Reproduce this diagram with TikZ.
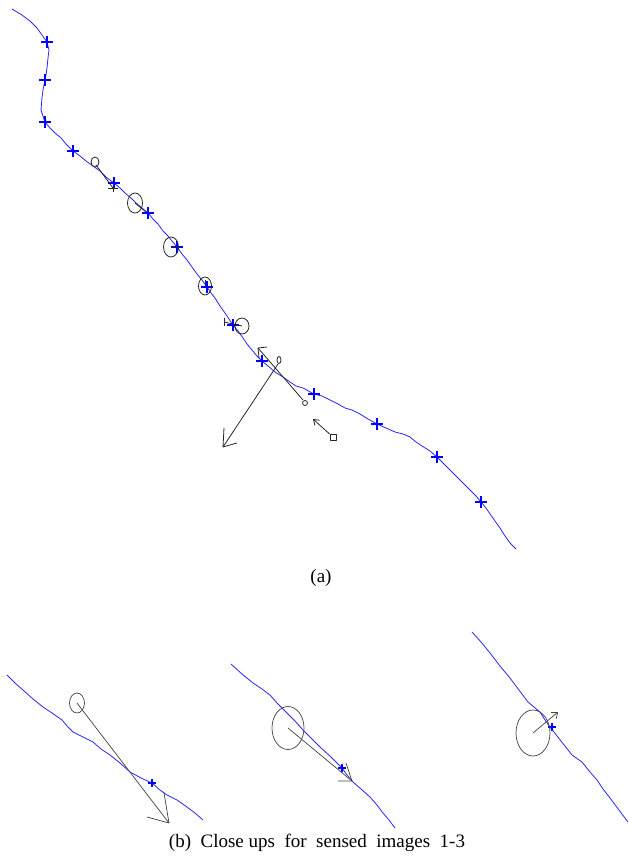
\documentclass[tikz,border=0pt]{standalone}
\usepackage{fontspec}
\setmainfont{Liberation Serif}
\usetikzlibrary{arrows.meta,shapes.geometric}
\begin{document}
\begin{tikzpicture}[x=1pt,y=-1pt,
  curve/.style={blue!85!white, line width=0.8pt, line join=round},
  ink/.style={black!85, line width=0.8pt, line join=round},
  thin ink/.style={black!75, line width=0.7pt},
  barb/.style={-{Straight Barb[length=5pt,width=7pt]}},
  captxt/.style={font=\fontsize{19}{22}\selectfont, inner sep=0pt},
  cr/.pic={\draw[blue, line width=1.1pt] (-6,0) -- (6,0) (0,-6) -- (0,6);}
]
\useasboundingbox (0,0) rectangle (629,857);

% ---------- (a) main trajectory ----------
\draw[curve] (12,9) -- (22,15) -- (30,21) -- (37,28) -- (42,35) -- (47,42) -- (49,50) -- (48,58) -- (47,68) -- (46,75) -- (45,80) -- (43,90) -- (42,98) -- (41,110) -- (45,122) -- (50,128) -- (55,133) -- (61,138) -- (66,144) -- (73,151) -- (80,156) -- (86,161) -- (93,166) -- (100,171) -- (106,177) -- (114,183) -- (120,188) -- (125,193) -- (131,198) -- (136,203) -- (142,208) -- (148,213) -- (153,219) -- (158,224) -- (163,231) -- (168,236) -- (172,241) -- (177,247) -- (182,254) -- (187,260) -- (192,267) -- (197,274) -- (202,280) -- (207,287) -- (211,293) -- (215,298) -- (220,306) -- (225,313) -- (229,319) -- (233,325) -- (238,331) -- (243,338) -- (247,344) -- (252,350) -- (257,356) -- (262,361) -- (268,366) -- (275,372) -- (283,377) -- (290,382) -- (296,386) -- (303,388) -- (314,394) -- (322,396) -- (330,400) -- (338,404) -- (345,408) -- (352,410) -- (360,414) -- (368,419) -- (377,424) -- (386,428) -- (395,432) -- (403,434) -- (410,437) -- (416,442) -- (422,446) -- (430,451) -- (437,457) -- (446,466) -- (455,475) -- (462,482) -- (470,490) -- (476,496) -- (481,502) -- (486,508) -- (490,514) -- (495,521) -- (500,528) -- (505,536) -- (510,543) -- (516,549);

\foreach \p in {(47,42),(45,80),(45,122),(73,151),(114,183),(148,213),(177,247),(207,287),(233,325),(262,361),(314,394),(377,424),(437,457),(481,502)}
  \pic at \p {cr};

% sensed images along the path
\draw[ink] (95,162) ellipse [x radius=4, y radius=5];
\coordinate (s1) at (96,165);
\coordinate (t1) at (113,188);
\draw[ink] (s1) -- (t1);
\draw[ink] (108,188) -- (118,188) (113,186) -- (113,192);

\node[ink, draw, ellipse, minimum width=15pt, minimum height=20pt, inner sep=0pt] (e2) at (135,203) {};
\draw[ink] (e2.center) -- (146,212);

\node[ink, draw, ellipse, minimum width=15pt, minimum height=20pt, inner sep=0pt] (e3) at (171,247) {};
\draw[ink] (e3.center) -- (178,248);

\node[ink, draw, ellipse, minimum width=13pt, minimum height=18pt, inner sep=0pt] (e4) at (205,286) {};
\draw[ink] (e4.center) -- (205,280);

\node[ink, draw, ellipse, minimum width=14pt, minimum height=16pt, inner sep=0pt] (e5) at (242,326) {};
\coordinate (t5) at (224,322);
\draw[ink] (e5.center) -- (t5);
\draw[ink] (t5) ++(0,-4) -- ++(0,8);

% large arrow
\draw[ink] (279,360) ellipse [x radius=2, y radius=3.5];
\coordinate (s6) at (278,364);
\coordinate (t6) at (223,447);
\draw[ink] (s6) -- (t6);
\draw[ink] (t6) -- (224,428) (t6) -- (237,443);

% arrow from small circle up-left
\draw[ink] (305,403) circle [radius=2.5];
\coordinate (s7) at (303,400);
\coordinate (t7) at (258,348);
\draw[ink] (s7) -- (t7);
\draw[ink] (t7) -- (267,347) (t7) -- (259,358);

% arrow from small square
\node[ink, draw, rectangle, minimum size=6pt, inner sep=0pt] (q8) at (333,437) {};
\coordinate (t8) at (313,419);
\draw[ink, barb] (q8) .. controls (324,429) .. (t8);

\node[captxt] (capa) at (321,578) {(a)};

% ---------- (b) close ups ----------
% close up 1
\draw[curve] (7,675) -- (15,683) -- (23,690) -- (33,699) -- (43,707) -- (52,713) -- (62,720) -- (68,727) -- (73,732) -- (83,737) -- (93,742) -- (101,749) -- (110,755) -- (120,763) -- (130,772) -- (141,778) -- (152,783) -- (160,790) -- (167,795) -- (177,800) -- (187,807) -- (195,813) -- (203,820);
\pic[scale=0.6] at (152,783) {cr};
\node[thin ink, draw, ellipse, minimum width=15pt, minimum height=20pt, inner sep=0pt] (c1) at (77,703) {};
\coordinate (c1t) at (169,823);
\draw[thin ink] (c1.center) -- (c1t);
\draw[thin ink] (c1t) -- (164,793) (c1t) -- (147,817);

% close up 2
\draw[curve] (231,664) -- (242,674) -- (253,683) -- (262,689) -- (270,695) -- (278,704) -- (287,713) -- (295,721) -- (303,730) -- (311,738) -- (320,747) -- (331,757) -- (342,768) -- (347,775) -- (353,782) -- (361,789) -- (370,797) -- (377,805) -- (383,813) -- (389,820) -- (395,828);
\pic[scale=0.6] at (342,768) {cr};
\node[thin ink, draw, ellipse, minimum width=32pt, minimum height=43pt, inner sep=0pt] (c2) at (288,728) {};
\coordinate (c2t) at (352,781);
\draw[thin ink] (c2.center) -- (c2t);
\draw[thin ink] (c2t) -- (346,763) (c2t) -- (338,781);

% close up 3
\draw[curve] (472,632) -- (481,642) -- (490,653) -- (500,666) -- (510,678) -- (519,690) -- (528,702) -- (540,712) -- (545,720) -- (550,727) -- (561,741) -- (572,755) -- (582,762) -- (590,772) -- (597,780) -- (603,789) -- (610,798) -- (619,810) -- (628,822);
\pic[scale=0.6] at (552,727) {cr};
\node[thin ink, draw, ellipse, minimum width=34pt, minimum height=46pt, inner sep=0pt] (c3) at (533,733) {};
\coordinate (c3t) at (558,712);
\draw[thin ink, -{Straight Barb[length=5pt,width=8pt]}] (c3.center) -- (c3t);

\node[captxt] (capb) at (317,843) {(b)\ \ Close\ ups\ \ for\ \ sensed\ \ images\ \ 1-3};
\end{tikzpicture}
\end{document}
